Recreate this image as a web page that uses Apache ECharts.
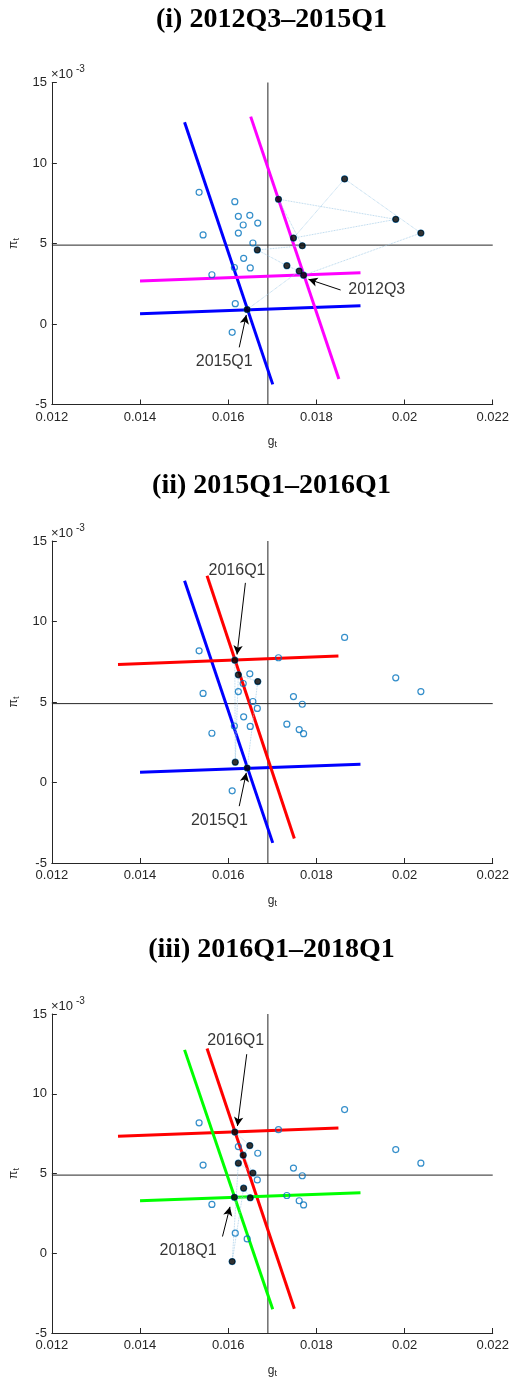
<!DOCTYPE html>
<html>
<head>
<meta charset="utf-8">
<script src="https://cdn.jsdelivr.net/npm/echarts@6/dist/echarts.min.js"></script>
<style>
html,body{margin:0;padding:0;background:#fff;}
#chart{width:512px;height:1379px;}
</style>
</head>
<body>
<div id="chart"></div>
<script>
// ---------------- DATA ----------------
const quarters = ['2012Q3','2012Q4','2013Q1','2013Q2','2013Q3','2013Q4','2014Q1','2014Q2','2014Q3','2014Q4',
  '2015Q1','2015Q2','2015Q3','2015Q4','2016Q1','2016Q2','2016Q3','2016Q4','2017Q1','2017Q2','2017Q3','2017Q4',
  '2018Q1','2018Q2','2018Q3','2018Q4'];
const gVals = [0.01771,0.02037,0.01864,0.01748,0.01980,0.01714,0.01768,0.01666,0.01733,0.01761,
  0.01643,0.01667,0.01623,0.01616,0.01615,0.01649,0.01634,0.01656,0.01623,0.01609,0.01635,0.01650,
  0.01614,0.01534,0.01543,0.01563];
const piVals = [0.00303,0.00565,0.00901,0.00534,0.00650,0.00775,0.00486,0.00460,0.00362,0.00329,
  0.00090,0.00627,0.00669,0.00126,0.00760,0.00675,0.00615,0.00503,0.00565,-0.00052,0.00408,0.00348,
  0.00351,0.00818,0.00553,0.00306];

const panelTitles = ['(i) 2012Q3\u20132015Q1','(ii) 2015Q1\u20132016Q1','(iii) 2016Q1\u20132018Q1'];
const panelRanges = [[0,10],[10,14],[14,22]];

const gStar = 0.0169;
const piStar = 0.0049;

const xTicks = [0.012,0.014,0.016,0.018,0.020,0.022];
const yTicks = [-0.005,0,0.005,0.010,0.015];

// curves: [[g1, pi1], [g2, pi2]]
const blueSteep   = [[0.01501,0.01253],[0.01701,-0.00375]];
const blueFlat    = [[0.0140,0.00063],[0.0190,0.00113]];
const magSteep    = [[0.01651,0.01288],[0.01851,-0.00342]];
const magFlat     = [[0.0140,0.00267],[0.0190,0.00319]];
const redSteep    = [[0.01552,0.01284],[0.01750,-0.00348]];
const redFlat     = [[0.0135,0.00733],[0.0185,0.00785]];
const greenSteep  = [[0.01501,0.01275],[0.01701,-0.00351]];
const greenFlat   = [[0.0140,0.00329],[0.0190,0.00380]];

const panelCurves = [
  [[blueSteep,'#0000ff'],[blueFlat,'#0000ff'],[magSteep,'#ff00ff'],[magFlat,'#ff00ff']],
  [[blueSteep,'#0000ff'],[blueFlat,'#0000ff'],[redSteep,'#ff0000'],[redFlat,'#ff0000']],
  [[redSteep,'#ff0000'],[redFlat,'#ff0000'],[greenSteep,'#00ff00'],[greenFlat,'#00ff00']]
];

// annotations: text position, arrow tail, arrow head (data units)
const annotations = [
  [ {t:'2012Q3', txt:[0.01937,0.00216], from:[0.01855,0.00211], to:[0.01782,0.00278]},
    {t:'2015Q1', txt:[0.01591,-0.00234], from:[0.01625,-0.00145], to:[0.01641,0.00056]} ],
  [ {t:'2016Q1', txt:[0.01620,0.01317], from:[0.01639,0.01240], to:[0.01620,0.00795]},
    {t:'2015Q1', txt:[0.01580,-0.00234], from:[0.01625,-0.00147], to:[0.01641,0.00060]} ],
  [ {t:'2016Q1', txt:[0.01617,0.01332], from:[0.01642,0.01248], to:[0.01621,0.00798]},
    {t:'2018Q1', txt:[0.01509,0.00018], from:[0.01587,0.00105], to:[0.01604,0.00291]} ]
];

// ---------------- LAYOUT ----------------
const gridTops = [82.5, 541, 1014];
const titleYs = [20, 486, 950];
const gridLeft = 49, gridW = 445, gridH = 322;

const chart = echarts.init(document.getElementById('chart'), null, {renderer:'canvas'});

const grids = [], xAxes = [], yAxes = [], series = [], graphics = [];
const FONT = 'Liberation Sans, Arial, Helvetica, sans-serif';
const xMin = xTicks[0], xMax = xTicks[xTicks.length-1];
const yMin = yTicks[0], yMax = yTicks[yTicks.length-1];

for (let p = 0; p < 3; p++) {
  grids.push({left: gridLeft, top: gridTops[p], width: gridW, height: gridH, containLabel: false});
  xAxes.push({
    gridIndex: p, type: 'value', min: xMin, max: xMax, interval: 0.002,
    axisLine: {show: true, onZero: false, lineStyle: {color: '#262626', width: 1}},
    axisTick: {show: true, inside: true, length: 5, lineStyle: {color: '#262626'}},
    splitLine: {show: false},
    axisLabel: {color: '#262626', fontSize: 13, fontFamily: FONT, margin: 6,
      formatter: v => String(parseFloat(v.toFixed(3)))},
    name: 'g{s|t}', nameLocation: 'middle', nameGap: 30,
    nameTextStyle: {color: '#262626', fontSize: 12, fontFamily: FONT,
      rich: {s: {fontSize: 9, verticalAlign: 'bottom', padding: [6,0,0,0], fontFamily: FONT, color:'#262626'}}}
  });
  yAxes.push({
    gridIndex: p, type: 'value', min: yMin, max: yMax, interval: 0.005,
    axisLine: {show: true, onZero: false, lineStyle: {color: '#262626', width: 1}},
    axisTick: {show: true, inside: true, length: 5, lineStyle: {color: '#262626'}},
    splitLine: {show: false},
    axisLabel: {color: '#262626', fontSize: 13, fontFamily: FONT, margin: 5,
      formatter: v => String(Math.round(v * 1000))},
    name: '\u03c0{s|t}', nameLocation: 'middle', nameGap: 30, nameRotate: 90,
    nameTextStyle: {color: '#262626', fontSize: 12, fontFamily: FONT,
      rich: {s: {fontSize: 9, verticalAlign: 'bottom', padding: [6,0,0,0], fontFamily: FONT, color:'#262626'}}}
  });

  // reference lines (steady state)
  series.push({type: 'line', xAxisIndex: p, yAxisIndex: p, data: [[xMin, piStar], [xMax, piStar]],
    symbol: 'none', silent: true, z: 1, lineStyle: {color: '#262626', width: 1}});
  series.push({type: 'line', xAxisIndex: p, yAxisIndex: p, data: [[gStar, yMin], [gStar, yMax]],
    symbol: 'none', silent: true, z: 1, lineStyle: {color: '#262626', width: 1}});

  // curves
  panelCurves[p].forEach(([pts, col]) => {
    series.push({type: 'line', xAxisIndex: p, yAxisIndex: p, data: pts, symbol: 'none',
      silent: true, z: 2, lineStyle: {color: col, width: 3}});
  });

  // all points hollow
  series.push({type: 'scatter', xAxisIndex: p, yAxisIndex: p, silent: true, z: 3,
    data: gVals.map((g, i) => [g, piVals[i]]), symbol: 'circle', symbolSize: 6,
    itemStyle: {color: 'rgba(0,0,0,0)', borderColor: '#0072bd', borderWidth: 1.2}});

  // time path (dotted)
  const [a, b] = panelRanges[p];
  const sub = [];
  for (let i = a; i <= b; i++) sub.push([gVals[i], piVals[i]]);
  series.push({type: 'line', xAxisIndex: p, yAxisIndex: p, data: sub, symbol: 'none', silent: true, z: 3,
    lineStyle: {color: '#9ec9e6', width: 0.8, type: 'dotted'}});
  // highlighted points
  series.push({type: 'scatter', xAxisIndex: p, yAxisIndex: p, silent: true, z: 4,
    data: sub, symbol: 'circle', symbolSize: 6,
    itemStyle: {color: '#000', borderColor: '#000', borderWidth: 0.5}});

  // annotations
  const ann = annotations[p];
  series.push({type: 'scatter', xAxisIndex: p, yAxisIndex: p, silent: true, z: 5, symbolSize: 0,
    data: ann.map(a => ({name: a.t, value: a.txt})),
    label: {show: true, position: 'inside', formatter: '{b}', color: '#000', fontSize: 16, fontFamily: FONT},
    markLine: {silent: true, animation: false, symbol: ['none', 'arrow'], symbolSize: [7, 9],
      label: {show: false}, lineStyle: {color: '#000', width: 1, type: 'solid'},
      data: ann.map(a => [{coord: a.from}, {coord: a.to}])}
  });

  // titles and exponent labels
  graphics.push({type: 'text', x: gridLeft + gridW / 2, y: titleYs[p],
    style: {text: panelTitles[p], font: 'bold 28px "Liberation Serif", "Times New Roman", serif',
      fill: '#000', textAlign: 'center', textVerticalAlign: 'middle'}});
  graphics.push({type: 'text', x: gridLeft + 2, y: gridTops[p] - 8,
    style: {text: '\u00d710', font: '13px ' + FONT, fill: '#262626', textAlign: 'left', textVerticalAlign: 'middle'}});
  graphics.push({type: 'text', x: gridLeft + 27, y: gridTops[p] - 13,
    style: {text: '-3', font: '10px ' + FONT, fill: '#262626', textAlign: 'left', textVerticalAlign: 'middle'}});
}

chart.setOption({
  animation: false,
  backgroundColor: '#fff',
  grid: grids, xAxis: xAxes, yAxis: yAxes, series: series, graphic: graphics
});
</script>
</body>
</html>
